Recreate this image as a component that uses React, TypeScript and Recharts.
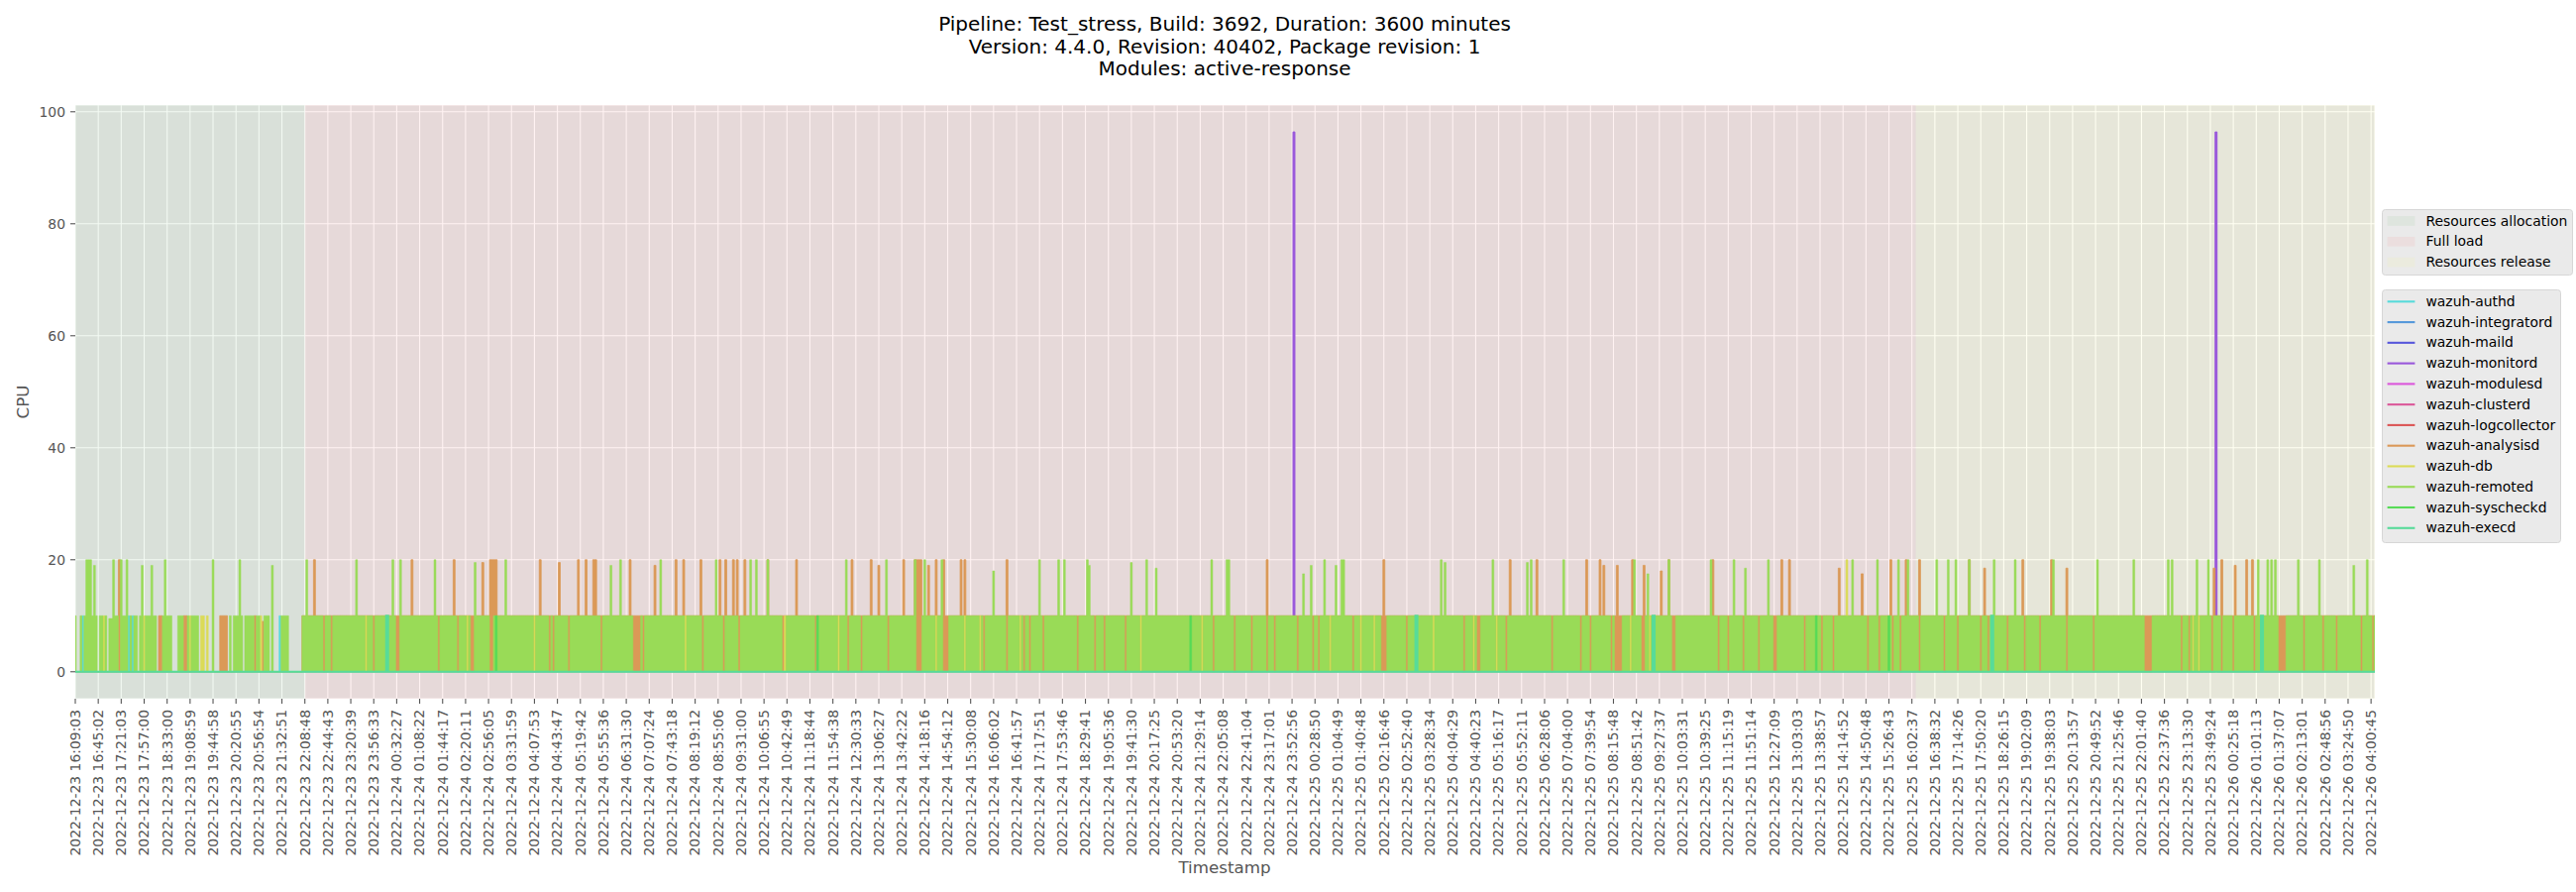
import React from 'react';
import { ComposedChart, Area, XAxis, YAxis, CartesianGrid, ReferenceArea } from 'recharts';

// ---------- data ----------
// The x axis is a sample-bucket index: 12 buckets between two consecutive tick labels.
const BUCKETS_PER_TICK = 12;
const LAST_BUCKET = 1202;

const tickLabels: string[] = [
  '2022-12-23 16:09:03', '2022-12-23 16:45:02', '2022-12-23 17:21:03', '2022-12-23 17:57:00',
  '2022-12-23 18:33:00', '2022-12-23 19:08:59', '2022-12-23 19:44:58', '2022-12-23 20:20:55',
  '2022-12-23 20:56:54', '2022-12-23 21:32:51', '2022-12-23 22:08:48', '2022-12-23 22:44:43',
  '2022-12-23 23:20:39', '2022-12-23 23:56:33', '2022-12-24 00:32:27', '2022-12-24 01:08:22',
  '2022-12-24 01:44:17', '2022-12-24 02:20:11', '2022-12-24 02:56:05', '2022-12-24 03:31:59',
  '2022-12-24 04:07:53', '2022-12-24 04:43:47', '2022-12-24 05:19:42', '2022-12-24 05:55:36',
  '2022-12-24 06:31:30', '2022-12-24 07:07:24', '2022-12-24 07:43:18', '2022-12-24 08:19:12',
  '2022-12-24 08:55:06', '2022-12-24 09:31:00', '2022-12-24 10:06:55', '2022-12-24 10:42:49',
  '2022-12-24 11:18:44', '2022-12-24 11:54:38', '2022-12-24 12:30:33', '2022-12-24 13:06:27',
  '2022-12-24 13:42:22', '2022-12-24 14:18:16', '2022-12-24 14:54:12', '2022-12-24 15:30:08',
  '2022-12-24 16:06:02', '2022-12-24 16:41:57', '2022-12-24 17:17:51', '2022-12-24 17:53:46',
  '2022-12-24 18:29:41', '2022-12-24 19:05:36', '2022-12-24 19:41:30', '2022-12-24 20:17:25',
  '2022-12-24 20:53:20', '2022-12-24 21:29:14', '2022-12-24 22:05:08', '2022-12-24 22:41:04',
  '2022-12-24 23:17:01', '2022-12-24 23:52:56', '2022-12-25 00:28:50', '2022-12-25 01:04:49',
  '2022-12-25 01:40:48', '2022-12-25 02:16:46', '2022-12-25 02:52:40', '2022-12-25 03:28:34',
  '2022-12-25 04:04:29', '2022-12-25 04:40:23', '2022-12-25 05:16:17', '2022-12-25 05:52:11',
  '2022-12-25 06:28:06', '2022-12-25 07:04:00', '2022-12-25 07:39:54', '2022-12-25 08:15:48',
  '2022-12-25 08:51:42', '2022-12-25 09:27:37', '2022-12-25 10:03:31', '2022-12-25 10:39:25',
  '2022-12-25 11:15:19', '2022-12-25 11:51:14', '2022-12-25 12:27:09', '2022-12-25 13:03:03',
  '2022-12-25 13:38:57', '2022-12-25 14:14:52', '2022-12-25 14:50:48', '2022-12-25 15:26:43',
  '2022-12-25 16:02:37', '2022-12-25 16:38:32', '2022-12-25 17:14:26', '2022-12-25 17:50:20',
  '2022-12-25 18:26:15', '2022-12-25 19:02:09', '2022-12-25 19:38:03', '2022-12-25 20:13:57',
  '2022-12-25 20:49:52', '2022-12-25 21:25:46', '2022-12-25 22:01:40', '2022-12-25 22:37:36',
  '2022-12-25 23:13:30', '2022-12-25 23:49:24', '2022-12-26 00:25:18', '2022-12-26 01:01:13',
  '2022-12-26 01:37:07', '2022-12-26 02:13:01', '2022-12-26 02:48:56', '2022-12-26 03:24:50',
  '2022-12-26 04:00:45',
];

const processKeys = ['authd', 'integratord', 'maild', 'monitord', 'modulesd', 'clusterd',
  'logcollector', 'analysisd', 'db', 'remoted', 'syscheckd', 'execd'];
const processNames = processKeys.map((k) => 'wazuh-' + k);

const phaseNames = ['Resources allocation', 'Full load', 'Resources release'];
const phaseBounds: [number, number][] = [[0, 120], [120, 962], [962, 1202]];

// runs: [fromBucket, toBucket, cpu level reached while oscillating]
const remotedRuns: [number, number, number][] = [
  [0, 0, 10], [3, 3, 10], [5, 11, 10], [13, 14, 10], [16, 16, 10], [18, 19, 9.5], [20, 22, 10],
  [24, 27, 10], [29, 29, 10], [31, 32, 10], [34, 35, 10], [37, 42, 10], [46, 50, 10], [54, 56, 10],
  [59, 59, 10], [61, 64, 10], [72, 72, 10], [81, 81, 10], [83, 87, 10], [89, 93, 10], [95, 96, 10],
  [99, 101, 10], [103, 103, 10], [108, 111, 10], [119, 1202, 10],
];
const remotedPeaks: [number, number][] = [
  [6, 20], [7, 20], [8, 20], [10, 19], [20, 20], [24, 20], [27, 20], [35, 19], [40, 19], [47, 20],
  [72, 20], [86, 20], [103, 19],
  [121, 20], [147, 20], [166, 20], [170, 20], [188, 20], [209, 19.5], [225, 20], [280, 19], [285, 20],
  [306, 20], [335, 20], [353, 20], [356, 20], [362, 20], [403, 20], [424, 20], [439, 20], [444, 20],
  [453, 20], [480, 18], [504, 20], [514, 20], [517, 20], [529, 20], [530, 19], [552, 19.5], [560, 20],
  [565, 18.5], [594, 20], [602, 20], [603, 20], [642, 17.5], [646, 19], [653, 20], [659, 19], [662, 20],
  [663, 20], [714, 20], [716, 19.5], [741, 20], [759, 19.5], [761, 20], [778, 20], [815, 20],
  [822, 17.5], [833, 20], [855, 20], [867, 20], [873, 18.5], [885, 20], [929, 20], [942, 20], [953, 20],
  [958, 20], [973, 20], [979, 20], [983, 20], [990, 20], [1003, 20], [1014, 20], [1034, 20], [1057, 20],
  [1076, 20], [1094, 20], [1096, 20], [1109, 20], [1115, 20], [1141, 20], [1146, 20], [1148, 20],
  [1150, 20], [1162, 20], [1173, 20], [1191, 19], [1198, 20],
];
// buckets where remoted stays idle (other processes show through)
const remotedIdle: number[] = [
  130, 134, 156, 168, 169, 190, 200, 207, 208, 217, 218, 248, 250, 258, 275, 292, 293, 294, 295, 297,
  328, 339, 347, 370, 387, 404, 411, 425, 440, 441, 442, 454, 455, 456, 475, 487, 496, 499, 506, 524,
  533, 538, 549, 595, 606, 615, 623, 627, 639, 647, 650, 668, 683, 684, 685, 696, 726, 733, 734, 748,
  772, 787, 792, 803, 805, 806, 807, 808, 819, 820, 835, 836, 859, 864, 872, 880, 888, 889, 904, 913,
  919, 937, 943, 950, 954, 964, 977, 984, 996, 1000, 1010, 1019, 1027, 1041, 1055, 1082, 1083, 1084,
  1085, 1101, 1105, 1117, 1122, 1128, 1139, 1152, 1153, 1154, 1155, 1165, 1175, 1182, 1195, 1201,
];

const analysisdRuns: [number, number, number][] = [
  [23, 23, 10], [44, 45, 10], [57, 58, 10], [76, 79, 10], [94, 94, 10], [98, 98, 9], [119, 1202, 10],
];
const analysisdPeaks: [number, number][] = [
  [23, 20], [125, 20], [176, 20], [198, 20], [213, 19.5], [217, 20], [218, 20], [219, 20], [220, 20],
  [243, 20], [253, 19.5], [263, 20], [267, 20], [271, 20], [272, 20], [290, 20], [303, 19], [314, 20],
  [318, 20], [327, 20], [337, 20], [340, 20], [344, 20], [346, 20], [350, 20], [362, 20], [377, 20],
  [406, 20], [416, 20], [420, 19], [433, 20], [439, 20], [440, 20], [441, 20], [442, 20], [446, 19],
  [450, 20], [454, 20], [463, 20], [465, 20], [487, 20], [623, 20], [684, 20], [750, 20], [764, 20],
  [790, 20], [797, 20], [799, 19], [806, 19], [814, 20], [820, 19], [829, 18], [833, 20], [856, 20],
  [892, 20], [896, 20], [922, 18.5], [934, 17.5], [949, 20], [957, 20], [964, 20], [990, 20],
  [998, 18.5], [1018, 20], [1033, 20], [1041, 18.5], [1118, 18.5], [1122, 20], [1129, 19], [1135, 20],
  [1138, 20],
];

const dbStripes: number[] = [
  15, 36, 60, 66, 67, 69, 97, 152, 205, 240, 319, 371, 399, 450, 465, 473, 494, 557, 589, 656, 672,
  679, 710, 731, 743, 813, 823, 1107, 1110,
];
const dbPeaks: [number, number][] = [[926, 20]];
const authdStripes: number[] = [4, 28, 30, 107];
const execdStripes: number[] = [163, 701, 825, 1002, 1143];
const syscheckdStripes: number[] = [220, 388, 583, 910, 948];
const monitordPeaks: [number, number][] = [[637, 96.4], [1119, 96.4]];

// ---------- styles ----------
const processColors = ['#57dbdb', '#5799db', '#5757db', '#9957db', '#db57db', '#db5799',
  '#db5757', '#db9957', '#dbdb57', '#99db57', '#57db57', '#57db99'];
const processStrokeWidths = [0.5, 0, 0, 1.0, 0, 0, 0, 0.8, 0.5, 0.5, 0.5, 2.1];
const phaseFills = ['green', 'red', 'yellow'];
const phaseLegendFills = ['#dee5de', '#ebdede', '#ebebde'];
const FONT = 'DejaVu Sans, Verdana, sans-serif';

// ---------- table built from the arrays ----------
function buildSeries(runs: [number, number, number][], peaks: [number, number][], idle: number[], stripes: number[] = []) {
  const v: number[] = new Array(LAST_BUCKET + 1).fill(0);
  for (const [a, b, l] of runs) for (let i = a; i <= b; i++) v[i] = l;
  for (const i of idle) v[i] = 0;
  for (const i of stripes) v[i] = 10;
  for (const [i, l] of peaks) v[i] = l;
  return v;
}

const seriesValues: Record<string, number[]> = {
  authd: buildSeries([], [], [], authdStripes),
  integratord: buildSeries([], [], []),
  maild: buildSeries([], [], []),
  monitord: buildSeries([], monitordPeaks, []),
  modulesd: buildSeries([], [], []),
  clusterd: buildSeries([], [], []),
  logcollector: buildSeries([], [], []),
  analysisd: buildSeries(analysisdRuns, analysisdPeaks, []),
  db: buildSeries([], dbPeaks, [], dbStripes),
  remoted: buildSeries(remotedRuns, remotedPeaks, remotedIdle.concat(dbStripes)),
  syscheckd: buildSeries([], [], [], syscheckdStripes),
  execd: buildSeries([], [], [], execdStripes),
};

const chartData = Array.from({ length: LAST_BUCKET + 1 }, (_, i) => {
  const row: Record<string, number> = { i };
  for (const k of processKeys) row[k] = seriesValues[k][i];
  return row;
});

const xTicks = tickLabels.map((_, k) => k * BUCKETS_PER_TICK);

const XTick = (props: any) => {
  const { x, y, payload } = props;
  const label = tickLabels[Math.round(payload.value / BUCKETS_PER_TICK)];
  return (
    <text x={x} y={y} transform={`rotate(-90, ${x}, ${y})`} textAnchor="end" dy="0.35em"
      fontSize={13.9} fill="#555555" fontFamily={FONT}>{label}</text>
  );
};

export default function App() {
  const rowPitch = 20.8;
  return (
    <div style={{ position: 'absolute', left: 0, top: 0, width: 2600, height: 900, background: '#ffffff', fontFamily: FONT }}>
      <ComposedChart width={2600} height={900} data={chartData}
        margin={{ top: 106, right: 203, bottom: 0, left: 0 }}>
        <CartesianGrid fill="#E5E5E5" stroke="#ffffff" strokeWidth={1.1} />
        {phaseBounds.map(([a, b], k) => (
          <ReferenceArea key={phaseNames[k]} x1={a} x2={b} fill={phaseFills[k]} fillOpacity={0.05} stroke="none" ifOverflow="extendDomain" />
        ))}
        <XAxis dataKey="i" type="number" domain={[0, LAST_BUCKET]} ticks={xTicks} interval={0}
          height={195} axisLine={false} tickSize={5} tickMargin={6}
          tickLine={{ stroke: '#555555', strokeWidth: 1.1 }} tick={<XTick />} allowDataOverflow />
        <YAxis type="number" domain={[-4.82, 101.2]} ticks={[0, 20, 40, 60, 80, 100]} width={76}
          axisLine={false} tickSize={5} tickMargin={5} allowDataOverflow
          tickLine={{ stroke: '#555555', strokeWidth: 1.1 }}
          tick={{ fill: '#555555', fontSize: 13.9, fontFamily: FONT }} />
        {processKeys.map((k, idx) => (
          <Area key={k} dataKey={k} name={processNames[idx]} type="step" baseValue={0}
            fill={processColors[idx]} fillOpacity={1}
            stroke={processStrokeWidths[idx] > 0 ? processColors[idx] : 'none'}
            strokeWidth={processStrokeWidths[idx]}
            dot={false} activeDot={false} isAnimationActive={false} />
        ))}
      </ComposedChart>

      <svg width={2600} height={900} style={{ position: 'absolute', left: 0, top: 0, pointerEvents: 'none' }}
        fontFamily={FONT}>
        <text x={1236} y={31} textAnchor="middle" fontSize={20} fill="#000">Pipeline: Test_stress, Build: 3692, Duration: 3600 minutes</text>
        <text x={1236} y={53.5} textAnchor="middle" fontSize={20} fill="#000">Version: 4.4.0, Revision: 40402, Package revision: 1</text>
        <text x={1236} y={76} textAnchor="middle" fontSize={20} fill="#000">Modules: active-response</text>

        <text x={23} y={405.5} transform="rotate(-90, 23, 405.5)" textAnchor="middle" dy="0.35em" fontSize={16.7} fill="#555555">CPU</text>
        <text x={1236} y={881} textAnchor="middle" fontSize={16.7} fill="#555555">Timestamp</text>

        <rect x={2404.5} y={211.5} width={192} height={66} rx={3} fill="#eaeaea" stroke="#d6d6d6" />
        {phaseNames.map((n, k) => (
          <g key={n}>
            <rect x={2409.6} y={223 + k * rowPitch - 4.9} width={27.8} height={9.7} fill={phaseLegendFills[k]} />
            <text x={2448.5} y={223 + k * rowPitch + 4.6} fontSize={13.9} fill="#000">{n}</text>
          </g>
        ))}

        <rect x={2404.5} y={292.5} width={180} height={255} rx={3} fill="#eaeaea" stroke="#d6d6d6" />
        {processNames.map((n, k) => {
          const cy = 304.3 + k * 20.77;
          return (
            <g key={n}>
              <line x1={2409.6} x2={2437.4} y1={cy} y2={cy} stroke={processColors[k]} strokeWidth={2.1} />
              <text x={2448.5} y={cy + 4.6} fontSize={13.9} fill="#000">{n}</text>
            </g>
          );
        })}
      </svg>
    </div>
  );
}
